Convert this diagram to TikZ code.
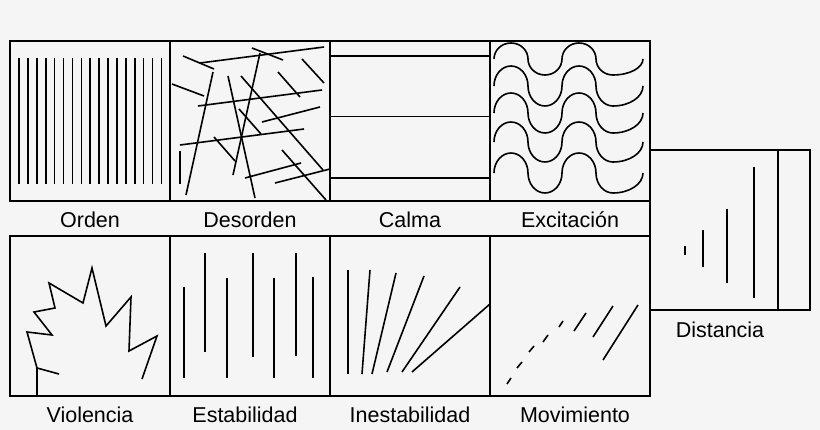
\documentclass[tikz,border=0pt]{standalone}
\usepackage{fontspec}
\setmainfont{Liberation Sans}
\usepackage{xcolor}
\usepackage{tikz}
\usetikzlibrary{positioning}
\definecolor{bgpaper}{HTML}{F5F5F5}
\tikzset{
  cell/.style={draw=black, line width=1.6pt, minimum width=160pt, minimum height=160pt, inner sep=0pt, outer sep=0pt},
  lbl/.style={font=\fontsize{21.5}{25}\selectfont, inner sep=0pt, text height=15.5pt, text depth=4.5pt},
  stroke/.style={line width=1.6pt}
}

\begin{document}
\begin{tikzpicture}[x=1pt, y=-1pt, stroke]
\fill[bgpaper] (0,0) rectangle (820,430);
\useasboundingbox (0,0) rectangle (820,430);
\node[cell] (b1) at (90,121) {};
\node[cell, right=0pt of b1] (b2) {};
\node[cell, right=0pt of b2] (b3) {};
\node[cell, right=0pt of b3] (b4) {};
\node[cell, below=35pt of b1] (b5) {};
\node[cell, right=0pt of b5] (b6) {};
\node[cell, right=0pt of b6] (b7) {};
\node[cell, right=0pt of b7] (b8) {};
\node[cell] (b9) at (730,230) {};
\node[lbl, below=10pt of b1] (l1) {Orden};
\node[lbl, below=10pt of b2] (l2) {Desorden};
\node[lbl, below=10pt of b3] (l3) {Calma};
\node[lbl, below=10pt of b4] (l4) {Excitación};
\node[lbl, below=10pt of b5] (l5) {Violencia};
\node[lbl, below=10pt of b6, xshift=-5pt] (l6) {Estabilidad};
\node[lbl, below=10pt of b7] (l7) {Inestabilidad};
\node[lbl, below=10pt of b8, xshift=5pt] (l8) {Movimiento};
\node[lbl, below=11pt of b9, xshift=-10pt] (l9) {Distancia};
\begin{scope}[shift={(b1.north west)}]
  \foreach \i in {0,...,16} \draw (9+8.9*\i,17) -- ++(0,126);
\end{scope}
\begin{scope}[shift={(b2.north west)}]
  \foreach \a/\b/\c/\d in {13/15/44/28, 30/22/154/6, 82/7/113/19, 90/12/63/134, 43/31/16/154,
    58/35/85/157, 71/35/153/129, 132/18/154/42, 108/31/130/56, 2/43/34/55, 28/65/152/49,
    69/68/91/93, 92/81/150/66, 10/104/134/88, 44/96/65/120, 10/110/10/143, 112/109/156/159,
    75/137/131/122, 105/142/160/128}
    \draw (\a,\b) -- (\c,\d);
\end{scope}
\begin{scope}[shift={(b3.north west)}]
  \foreach \y in {15,75.7,137.3} \draw (0,\y) -- (160,\y);
\end{scope}
\begin{scope}[shift={(b4.north west)}]
  \foreach \c/\h in {18/16, 45/20, 72/20, 101/20, 132/20}
    \draw (4,\c) arc[start angle=180, end angle=360, x radius=17, y radius=\h]
      arc[start angle=180, end angle=0, x radius=17, y radius=\h]
      arc[start angle=180, end angle=360, x radius=17, y radius=\h]
      arc[start angle=180, end angle=90, x radius=17, y radius=\h]
      arc[start angle=90, end angle=0, x radius=30, y radius=\h];
\end{scope}
\begin{scope}[shift={(b5.north west)}]
  \draw (27,160) -- (27,132) -- (49,138);
  \draw (27,132) -- (17,96) -- (42,99) -- (24,76) -- (45,72) -- (39,47) -- (73,67)
    -- (82,32) -- (96,90) -- (121,61) -- (119,115) -- (147,100) -- (132,143);
\end{scope}
\begin{scope}[shift={(b6.north west)}]
  \foreach \x/\a/\b in {14/51/142, 35/17/116, 57/42/142, 83/17/121, 104/42/142, 126/17/120, 143/41/142}
    \draw (\x,\a) -- (\x,\b);
\end{scope}
\begin{scope}[shift={(b7.north west)}]
  \foreach \a/\b/\c/\d in {18/34/18/138, 40/34/32/138, 66/37/42/138, 94/40/57/136, 130/51/72/136, 160/68/82/136}
    \draw (\a,\b) -- (\c,\d);
\end{scope}
\begin{scope}[shift={(b8.north west)}]
  \foreach \a/\b/\c/\d in {17/148/21/142, 27/132/32/126, 39/116/44/110, 53/106/58/99, 69/91/73/85,
    84/95/96/77, 103/101/123/70, 113/124/148/69}
    \draw (\a,\b) -- (\c,\d);
\end{scope}
\begin{scope}[shift={(b9.north west)}]
  \foreach \x/\a/\b in {35/96/105, 53/80/117, 77/59/133, 104/17/148}
    \draw (\x,\a) -- (\x,\b);
  \draw (128,0) -- (128,160);
\end{scope}
\end{tikzpicture}
\end{document}
